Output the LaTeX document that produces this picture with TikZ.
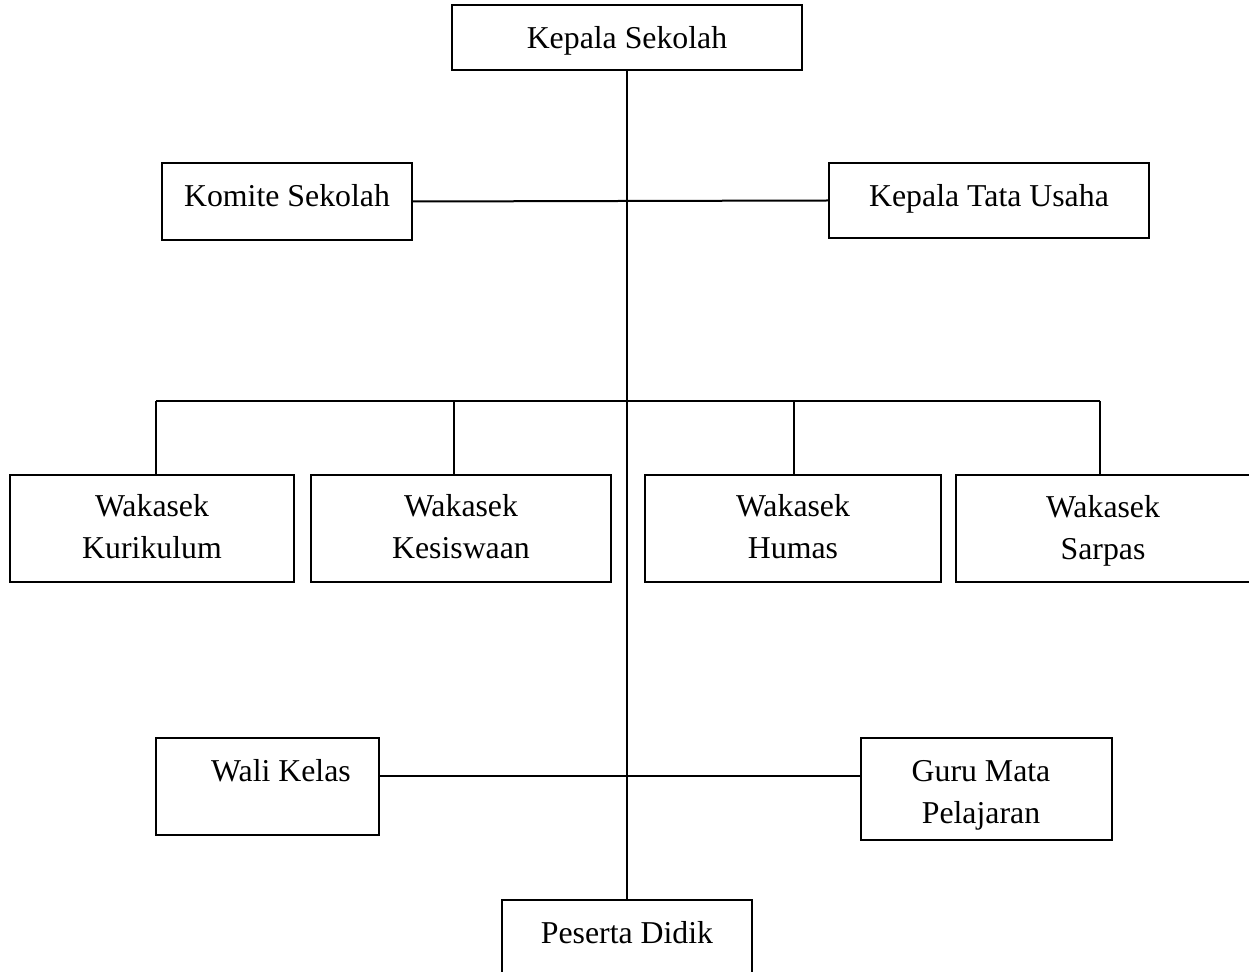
\documentclass[tikz,border=0pt]{standalone}
\usepackage{fontspec}
\setmainfont{Liberation Serif}
\begin{document}
\begin{tikzpicture}[x=0.5pt,y=-0.5pt,
  box/.style={draw,line width=1pt,inner sep=0pt,outer sep=0pt,align=center,
    font=\fontsize{15.9}{21}\selectfont},
  txt/.style={inner sep=0pt,align=center,font=\fontsize{15.9}{21}\selectfont},
  conn/.style={line width=1pt}]
\useasboundingbox (0,0) rectangle (1249,972);
\node[box,minimum width=175pt,minimum height=32.5pt] (ks) at (627,37.5) {};
\node[txt] (kst) at (627,41) {Kepala Sekolah};
\node[box,minimum width=125pt,minimum height=38.5pt] (kom) at (287,201.5) {};
\node[txt] (komt) at (287,196) {Komite Sekolah};
\node[box,minimum width=160pt,minimum height=37.5pt] (ktu) at (989,200.5) {};
\node[txt] (ktut) at (989,199) {Kepala Tata Usaha};
\node[box,minimum width=142pt,minimum height=53.5pt] (w1) at (152,528.5) {};
\node[txt] (w1t) at (152,527) {Wakasek\\Kurikulum};
\node[box,minimum width=150pt,minimum height=53.5pt] (w2) at (461,528.5) {};
\node[txt] (w2t) at (461,527) {Wakasek\\Kesiswaan};
\node[box,minimum width=148pt,minimum height=53.5pt] (w3) at (793,528.5) {};
\node[txt] (w3t) at (793,527) {Wakasek\\Humas};
\node[box,minimum width=154pt,minimum height=53.5pt] (w4) at (1110,528.5) {};
\node[txt] (w4t) at (1103,531) {Wakasek\\Sarpas};
\node[box,minimum width=111.5pt,minimum height=48.5pt] (wal) at (267.5,786.5) {};
\node[txt] (walt) at (281,771) {Wali Kelas};
\node[box,minimum width=125.5pt,minimum height=51pt] (gmp) at (986.5,789) {};
\node[txt] (gmpt) at (981,795) {Guru Mata\\Pelajaran};
\node[box,minimum width=125pt,minimum height=40pt] (pd) at (627,940) {};
\node[txt] (pdt) at (627,933) {Peserta Didik};
\coordinate (b1) at (156,401);
\coordinate (b2) at (454,401);
\coordinate (b3) at (794,401);
\coordinate (b4) at (1100,401);
\coordinate (h) at (627,776);
\draw[conn] (ks.south) -- (pd.north);
\draw[conn] (kom.east) -- (ktu.west);
\draw[conn] (b1) -- (b4);
\draw[conn] (b1) -- (b1 |- w1.north);
\draw[conn] (b2) -- (b2 |- w2.north);
\draw[conn] (b3) -- (b3 |- w3.north);
\draw[conn] (b4) -- (b4 |- w4.north);
\draw[conn] (h -| wal.east) -- (h -| gmp.west);
\end{tikzpicture}
\end{document}
